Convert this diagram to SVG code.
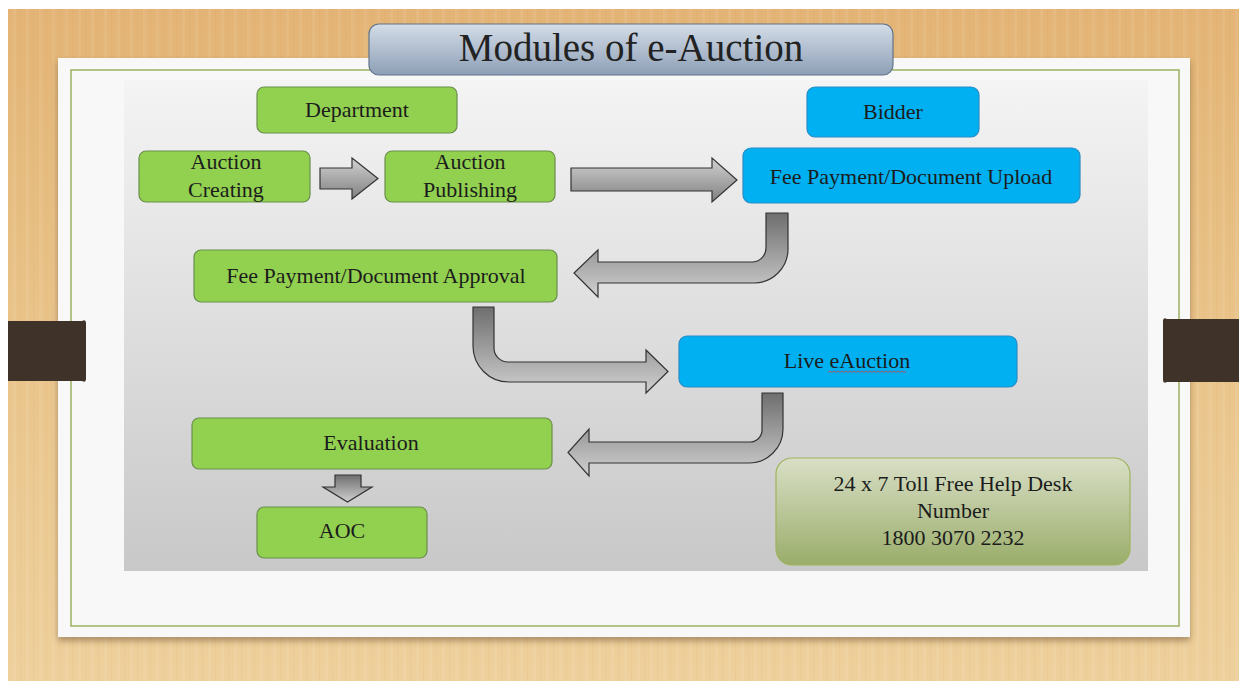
<svg xmlns="http://www.w3.org/2000/svg" width="1239" height="681" viewBox="0 0 1239 681">
<defs>
<linearGradient id="wood" x1="0" y1="0" x2="0" y2="1">
<stop offset="0" stop-color="#e3b475"/>
<stop offset="0.5" stop-color="#e9c48a"/>
<stop offset="1" stop-color="#eed09c"/>
</linearGradient>
<pattern id="grain" width="13" height="681" patternUnits="userSpaceOnUse">
<rect x="0" y="0" width="3" height="681" fill="#ffffff" opacity="0.07"/>
<rect x="7" y="0" width="1" height="681" fill="#b58a4a" opacity="0.07"/>
</pattern>
<linearGradient id="panel" x1="0" y1="0" x2="0" y2="1">
<stop offset="0" stop-color="#f4f4f4"/>
<stop offset="1" stop-color="#c8c8c8"/>
</linearGradient>
<linearGradient id="titleG" x1="0" y1="0" x2="0" y2="1">
<stop offset="0" stop-color="#d4dde8"/>
<stop offset="1" stop-color="#8d9fb6"/>
</linearGradient>
<linearGradient id="helpG" x1="0" y1="0" x2="0" y2="1">
<stop offset="0" stop-color="#d9dfc6"/>
<stop offset="1" stop-color="#9aad6a"/>
</linearGradient>
<linearGradient id="arrH" x1="0" y1="0" x2="0" y2="1">
<stop offset="0" stop-color="#d2d2d2"/>
<stop offset="1" stop-color="#808080"/>
</linearGradient>
<linearGradient id="arrB" x1="0" y1="0" x2="0" y2="1">
<stop offset="0" stop-color="#6e6e6e"/>
<stop offset="1" stop-color="#d0d0d0"/>
</linearGradient>
<filter id="shadow" x="-5%" y="-5%" width="110%" height="115%">
<feDropShadow dx="0" dy="4" stdDeviation="3" flood-color="#5a4020" flood-opacity="0.45"/>
</filter>
</defs>
<style>
.green{fill:#92d050;stroke:#6a8f4c;stroke-width:1.2}
.blue{fill:#00b0f0;stroke:#2a8cc6;stroke-width:1.2}
.lbl{font-family:"Liberation Serif","Times New Roman",serif;font-size:22px;fill:#1c1c1c;text-anchor:middle}
.arrow{stroke:#333333;stroke-width:1.2;stroke-linejoin:miter}
.bar{fill:#3e3229}
</style>

<rect x="0" y="0" width="1239" height="681" fill="#ffffff"/>
<rect x="8" y="9" width="1231" height="672" fill="url(#wood)"/>
<rect x="8" y="9" width="1231" height="672" fill="url(#grain)"/>

<g id="paper">
<rect x="58" y="58" width="1132" height="579" fill="#f8f8f8" filter="url(#shadow)"/>
<rect x="71" y="70" width="1108" height="556" fill="none" stroke="#8ca54c" stroke-width="1.3"/>
<rect x="124" y="80" width="1024" height="491" fill="url(#panel)"/>
</g>

<g id="bars">
<path class="bar" d="M8,321 H82 Q86,319 86,323 V379 Q86,383 82,381 H8 Z"/>
<path class="bar" d="M1239,319 H1167 Q1163,317 1163,321 V380 Q1163,384 1167,382 H1239 Z"/>
</g>

<g id="title">
<rect x="369" y="24" width="524" height="51" rx="10" fill="url(#titleG)" stroke="#61738b" stroke-width="1.2"/>
<text x="631" y="61" style="font-family:'Liberation Serif','Times New Roman',serif;font-size:39px;fill:#222222;text-anchor:middle">Modules of e-Auction</text>
</g>

<g id="connectors">
<path class="arrow" fill="url(#arrH)" d="M320,168 H352 V158 L378,178.5 L352,199 V189 H320 Z"/>
<path class="arrow" fill="url(#arrH)" d="M571,168 H712 V158 L737,180 L712,202 V191 H571 Z"/>
<path class="arrow" fill="url(#arrB)" d="M766,213 H788 V249 A34,34 0 0 1 754,283 H598 V297 L574,273 L598,250 V262 H752 A14,14 0 0 0 766,248 Z"/>
<path class="arrow" fill="url(#arrB)" d="M473,307 H494 V348 A14,14 0 0 0 508,362 H646 V350 L668,371.5 L646,393 V382 H509 A36,36 0 0 1 473,346 Z"/>
<path class="arrow" fill="url(#arrB)" d="M762,393 H783 V429 A34,34 0 0 1 749,463 H589 V476 L568,452.5 L589,429 V442 H750 A12,12 0 0 0 762,430 Z"/>
<path class="arrow" fill="url(#arrB)" d="M335,475 H361 V487 H372 L347.5,502 L323,487 H335 Z"/>
</g>

<g id="department">
<rect class="green" x="257" y="87" width="200" height="46" rx="7"/>
<text class="lbl" x="357" y="117">Department</text>
</g>
<g id="bidder">
<rect class="blue" x="807" y="87" width="172" height="50" rx="8"/>
<text class="lbl" x="893" y="119">Bidder</text>
</g>
<g id="auction-creating">
<rect class="green" x="139" y="151" width="171" height="51" rx="7"/>
<text class="lbl" x="226" y="169">Auction</text>
<text class="lbl" x="226" y="197">Creating</text>
</g>
<g id="auction-publishing">
<rect class="green" x="385" y="151" width="170" height="51" rx="7"/>
<text class="lbl" x="470" y="169">Auction</text>
<text class="lbl" x="470" y="197">Publishing</text>
</g>
<g id="fee-upload">
<rect class="blue" x="743" y="148" width="337" height="55" rx="8"/>
<text class="lbl" x="911" y="184">Fee Payment/Document Upload</text>
</g>
<g id="fee-approval">
<rect class="green" x="194" y="250" width="363" height="52" rx="7"/>
<text class="lbl" x="376" y="283">Fee Payment/Document Approval</text>
</g>
<g id="live-eauction">
<rect class="blue" x="679" y="336" width="338" height="51" rx="8"/>
<text class="lbl" x="847" y="368">Live eAuction</text>
<path d="M828,372.5 l2,-1.5 l2,1.5 l2,-1.5 l2,1.5 l2,-1.5 l2,1.5 l2,-1.5 l2,1.5 l2,-1.5 l2,1.5 l2,-1.5 l2,1.5 l2,-1.5 l2,1.5 l2,-1.5 l2,1.5 l2,-1.5 l2,1.5 l2,-1.5 l2,1.5 l2,-1.5 l2,1.5 l2,-1.5 l2,1.5 l2,-1.5 l2,1.5 l2,-1.5 l2,1.5 l2,-1.5 l2,1.5 l2,-1.5 l2,1.5 l2,-1.5 l2,1.5 l2,-1.5 l2,1.5 l2,-1.5 l2,1.5 l2,-1.5" fill="none" stroke="#d23c3c" stroke-width="0.8"/>
</g>
<g id="evaluation">
<rect class="green" x="192" y="418" width="360" height="51" rx="7"/>
<text class="lbl" x="371" y="450">Evaluation</text>
</g>
<g id="aoc">
<rect class="green" x="257" y="507" width="170" height="51" rx="7"/>
<text class="lbl" x="342" y="538">AOC</text>
</g>
<g id="helpdesk">
<rect x="776" y="458" width="354" height="107" rx="16" fill="url(#helpG)" stroke="#9fb45e" stroke-width="1.2"/>
<text class="lbl" x="953" y="491">24 x 7 Toll Free Help Desk</text>
<text class="lbl" x="953" y="518">Number</text>
<text class="lbl" x="953" y="545">1800 3070 2232</text>
</g>
</svg>
